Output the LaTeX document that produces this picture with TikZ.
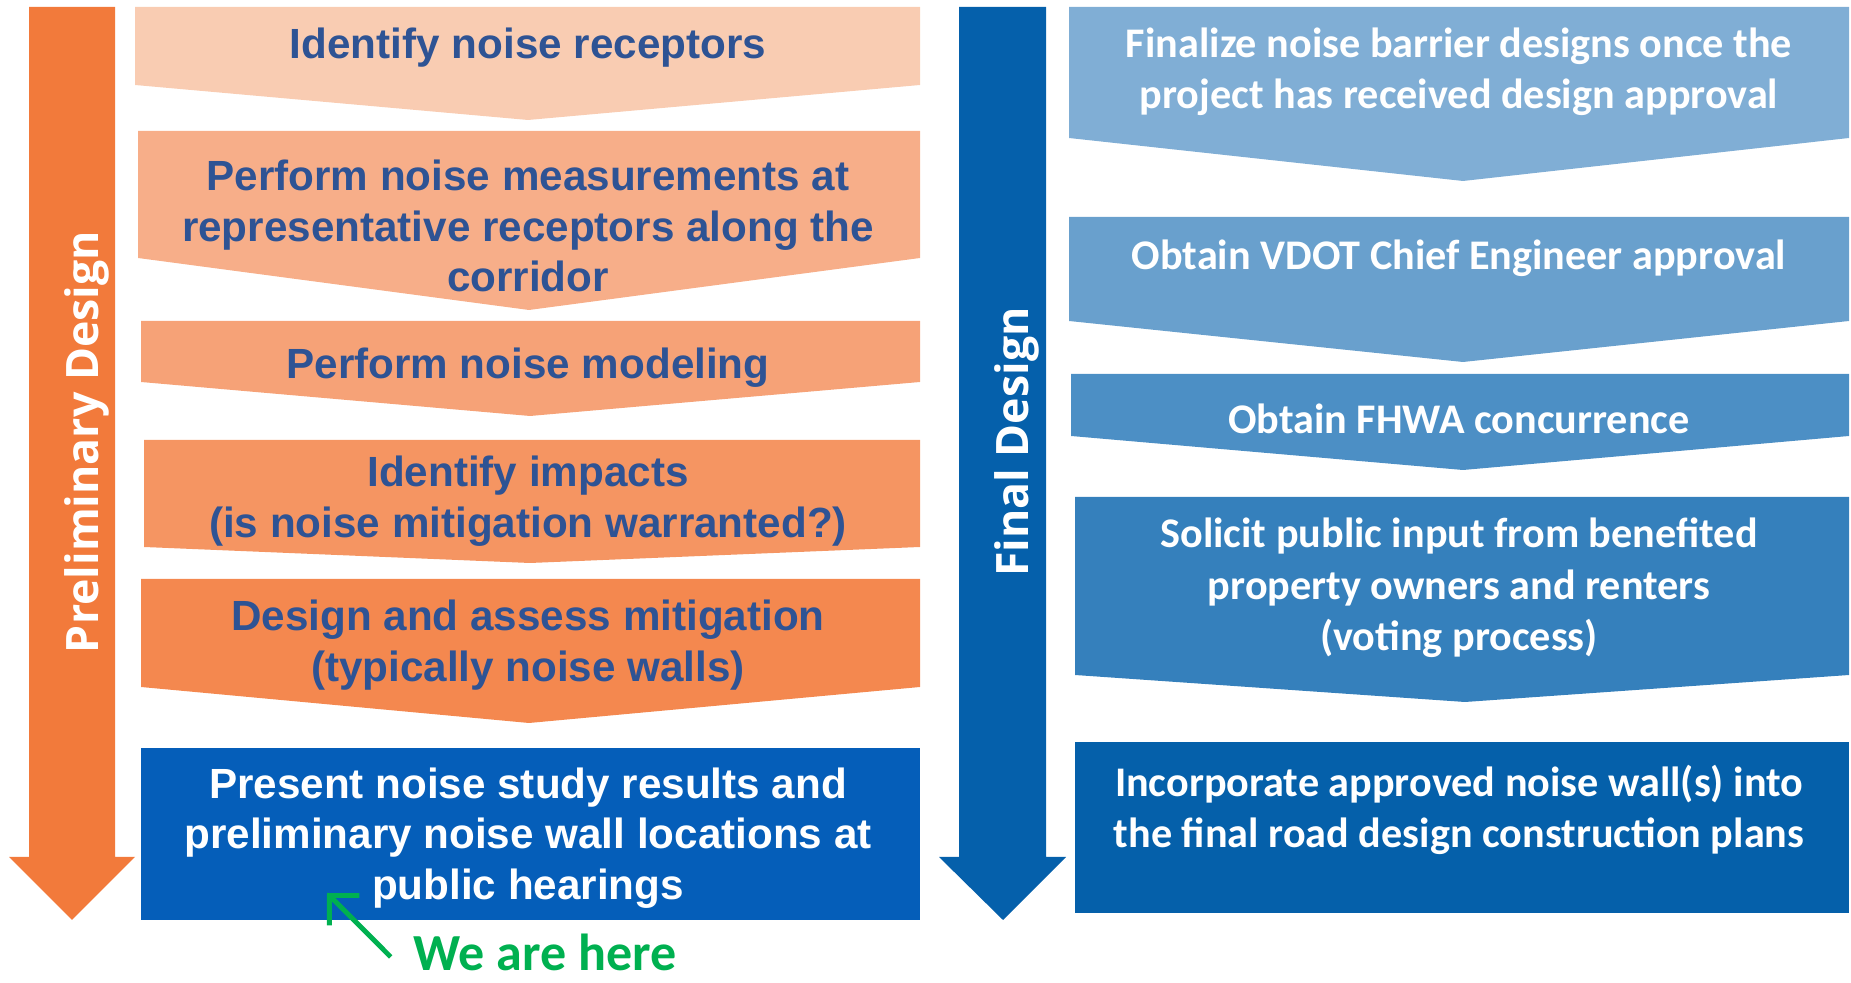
\documentclass[tikz,border=0pt]{standalone}
\usepackage{fontspec}
\setmainfont{Liberation Sans}
\newfontfamily\calibri{Carlito}
\newfontfamily\opensans{Open Sans}
\usetikzlibrary{arrows.meta}

\definecolor{obar}{HTML}{F27A3B}
\definecolor{oA}{HTML}{F9CCB2}
\definecolor{oB}{HTML}{F7AE89}
\definecolor{oC}{HTML}{F6A277}
\definecolor{oD}{HTML}{F59562}
\definecolor{oE}{HTML}{F4884F}
\definecolor{bnow}{HTML}{055EB9}
\definecolor{ltext}{HTML}{2E5394}
\definecolor{bbar}{HTML}{0560AB}
\definecolor{bA}{HTML}{80AED5}
\definecolor{bB}{HTML}{69A0CD}
\definecolor{bC}{HTML}{4C8FC5}
\definecolor{bD}{HTML}{3580BC}
\definecolor{bE}{HTML}{0560AA}
\definecolor{here}{HTML}{00B050}

\begin{document}
\begin{tikzpicture}[x=0.01cm, y=-0.01cm]
\tikzstyle{ltxt}=[inner sep=0pt, align=center, text=ltext,
                        font=\bfseries\fontsize{12}{14.4}\selectfont]
\tikzstyle{rtxt}=[inner sep=0pt, align=center, text=white,
                        font=\calibri\bfseries\fontsize{12}{14.6}\selectfont]
\tikzstyle{phase}=[rotate=90, anchor=base, inner sep=0pt, text=white,
                        font=\opensans\bfseries\fontsize{12.7}{15}\selectfont]
\useasboundingbox (0,0) rectangle (1851,983);
% long arrows
\fill[obar] (29,7)--(115,7)--(115,857)--(135,857)--(72,920)--(9,857)--(29,857)--cycle;
\fill[bbar] (959,7)--(1046,7)--(1046,857)--(1066,857)--(1003,920)--(939,857)--(959,857)--cycle;
	\node[phase] (P) at (98,442){Preliminary Design};
	\node[phase] (F) at (1028,442){Final Design};
% preliminary steps
\fill[oA] (135,7)--(920,7)--(920,85)--(528,120)--(135,85)--cycle;
\fill[oB] (138,131)--(920,131)--(920,258)--(529,310)--(138,258)--cycle;
\fill[oC] (141,321)--(920,321)--(920,382)--(530,416)--(141,382)--cycle;
\fill[oD] (144,440)--(920,440)--(920,547)--(530,563)--(144,547)--cycle;
\fill[oE] (141,579)--(920,579)--(920,687)--(529,723)--(141,687)--cycle;
\fill[bnow] (141,748) rectangle (920,920);
	\node[ltxt] (L1) at (528,48){Identify noise receptors};
	\node[ltxt] (L2) at (528,226){Perform noise measurements at\\representative receptors along the\\corridor};
	\node[ltxt] (L3) at (528,368){Perform noise modeling};
	\node[ltxt] (L4) at (528,501){Identify impacts\\(is noise mitigation warranted?)};
	\node[ltxt] (L5) at (528,645){Design and assess mitigation\\(typically noise walls)};
	\node[ltxt, text=white] (L6) at (528,838){Present noise study results and\\preliminary noise wall locations at\\public hearings};
% final steps
\fill[bA] (1069,7)--(1849,7)--(1849,138)--(1463,181)--(1069,138)--cycle;
\fill[bB] (1069,217)--(1849,217)--(1849,321)--(1463,362)--(1069,321)--cycle;
\fill[bC] (1071,374)--(1849,374)--(1849,436)--(1463,470)--(1071,436)--cycle;
\fill[bD] (1075,497)--(1849,497)--(1849,675)--(1465,702)--(1075,675)--cycle;
\fill[bE] (1075,742) rectangle (1849,913);
	\node[rtxt] (R1) at (1459,72){Finalize noise barrier designs once the\\project has received design approval};
	\node[rtxt] (R2) at (1459,258){Obtain VDOT Chief Engineer approval};
	\node[rtxt] (R3) at (1459,419){Obtain FHWA concurrence};
	\node[rtxt] (R4) at (1459,588){Solicit public input from benefited\\property owners and renters\\(voting process)};
	\node[rtxt] (R5) at (1459,810){Incorporate approved noise wall(s) into\\the final road design construction plans};
% marker
	\node[inner sep=0pt, text=here, font=\calibri\bfseries\fontsize{14.8}{17}\selectfont] (H) at (545,952){We are here};
	\coordinate (T) at (327,893);
\draw[here, line width=1.4pt, -{Straight Barb[length=6pt, width=12pt]}] ([xshift=-0.22cm, yshift=-0.05cm]H.west)--(T);
\end{tikzpicture}
\end{document}
